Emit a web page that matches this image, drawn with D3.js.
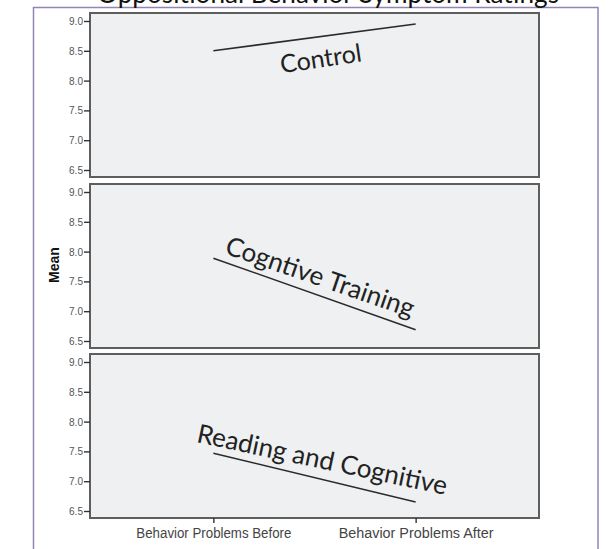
<!DOCTYPE html>
<html>
<head>
<meta charset="utf-8">
<script src="https://cdn.jsdelivr.net/npm/d3@7/dist/d3.min.js"></script>
<style>
  html, body { margin: 0; padding: 0; background: #fff; }
  svg { display: block; }
</style>
</head>
<body>
<svg id="chart" width="608" height="549"></svg>
<script>
// Mean oppositional behaviour ratings, before and after, per training group
const title = "Oppositional Behavior Symptom Ratings";
const groups = ["Control", "Cogntive Training", "Reading and Cognitive"];
const conditions = ["Behavior Problems Before", "Behavior Problems After"];
const controlMeans = [8.50, 8.95];
const cognitiveMeans = [7.89, 6.69];
const readingMeans = [7.47, 6.65];
const yTicks = [6.5, 7.0, 7.5, 8.0, 8.5, 9.0];
const yAxisTitle = "Mean";

const seriesByGroup = [controlMeans, cognitiveMeans, readingMeans];

// Layout
const svg = d3.select("#chart");
const panelLeft = 90, panelWidth = 449, panelHeight = 164;
const panelTops = [13, 184, 354];
const narrowFont = "'Liberation Sans Narrow', 'Arial Narrow', 'Liberation Sans', sans-serif";
// Group label placement relative to the midpoint of the group's line
const labelLayout = [
  { dx: 6, dy: 20, angle: -8.5, size: 25 },
  { dx: 6, dy: -18, angle: 19, size: 26 },
  { dx: 8, dy: -19, angle: 12, size: 26 }
];

// Outer purple frame
svg.append("rect")
  .attr("x", 33.5).attr("y", 7.5)
  .attr("width", 564.5).attr("height", 560)
  .attr("fill", "#fff")
  .attr("stroke", "#9384b8")
  .attr("stroke-width", 1.5);

// Title (runs off the top edge)
svg.append("text")
  .attr("x", 328).attr("y", 3)
  .attr("text-anchor", "middle")
  .attr("font-family", "Lato, 'Open Sans', sans-serif")
  .attr("font-size", 27)
  .attr("fill", "#111")
  .attr("textLength", 462)
  .attr("lengthAdjust", "spacingAndGlyphs")
  .text(title);

const x = d3.scalePoint()
  .domain(conditions)
  .range([0, panelWidth])
  .padding(0.61);

groups.forEach((g, i) => {
  const top = panelTops[i];
  const y = d3.scaleLinear().domain([6.5, 9.0]).range([panelHeight - 7, 8]);
  const panel = svg.append("g").attr("transform", `translate(${panelLeft},${top})`);

  panel.append("rect")
    .attr("x", 0).attr("y", 0)
    .attr("width", panelWidth).attr("height", panelHeight)
    .attr("fill", "#eef0f1")
    .attr("stroke", "#5e5e5e")
    .attr("stroke-width", 2);

  // y axis
  const yAxis = panel.append("g")
    .call(d3.axisLeft(y).tickValues(yTicks).tickFormat(d3.format(".1f")).tickSize(6).tickPadding(1));
  yAxis.select(".domain").remove();
  yAxis.selectAll(".tick line").attr("stroke", "#333").attr("stroke-width", 1.4);
  yAxis.selectAll(".tick text")
    .attr("font-family", narrowFont)
    .attr("font-size", 11)
    .attr("textLength", 14)
    .attr("lengthAdjust", "spacingAndGlyphs")
    .attr("fill", "#555");

  // mean line
  const data = seriesByGroup[i].map((v, k) => ({ c: conditions[k], v }));
  panel.append("path")
    .datum(data)
    .attr("fill", "none")
    .attr("stroke", "#2b2b2b")
    .attr("stroke-width", 1.6)
    .attr("d", d3.line().x(d => x(d.c)).y(d => y(d.v)));

  // group label
  const mx = (x(data[0].c) + x(data[1].c)) / 2;
  const my = (y(data[0].v) + y(data[1].v)) / 2;
  const L = labelLayout[i];
  panel.append("text")
    .attr("transform", `translate(${mx + L.dx},${my + L.dy}) rotate(${L.angle})`)
    .attr("text-anchor", "middle")
    .attr("dominant-baseline", "central")
    .attr("font-family", "Lato, 'Open Sans', sans-serif")
    .attr("font-size", L.size)
    .attr("fill", "#222")
    .text(g);

  // x axis on the bottom panel
  if (i === groups.length - 1) {
    const xAxis = panel.append("g")
      .attr("transform", `translate(0,${panelHeight})`)
      .call(d3.axisBottom(x).tickSize(5).tickPadding(5));
    xAxis.select(".domain").remove();
    xAxis.selectAll(".tick line").attr("stroke", "#333").attr("stroke-width", 1.4);
    xAxis.selectAll(".tick text")
      .attr("font-family", narrowFont)
      .attr("font-size", 14)
      .attr("textLength", 155)
      .attr("lengthAdjust", "spacingAndGlyphs")
      .attr("fill", "#444");
  }
});

// y axis title
svg.append("text")
  .attr("transform", "translate(59,265) rotate(-90)")
  .attr("text-anchor", "middle")
  .attr("font-family", "'Liberation Sans', Arial, sans-serif")
  .attr("font-weight", "bold")
  .attr("font-size", 14)
  .attr("fill", "#111")
  .text(yAxisTitle);
</script>
</body>
</html>
